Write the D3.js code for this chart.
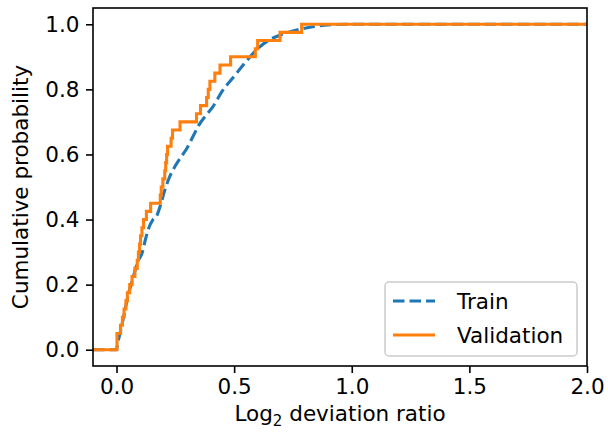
<!DOCTYPE html>
<html>
<head>
<meta charset="utf-8">
<script src="https://cdn.jsdelivr.net/npm/d3@7"></script>
<style>
  body { margin: 0; background: #fff; }
  svg { font-family: "DejaVu Sans", sans-serif; }
</style>
</head>
<body>
<script>
// sorted sample values (log2 deviation ratio), validation set
const validationValues = [0.002, 0.002, 0.017, 0.025, 0.032, 0.040, 0.046, 0.056,
    0.066, 0.078, 0.088, 0.093, 0.098, 0.102, 0.108, 0.115, 0.127, 0.145,
    0.186, 0.190, 0.197, 0.205, 0.209, 0.213, 0.217, 0.232, 0.238, 0.270,
    0.340, 0.357, 0.383, 0.390, 0.397, 0.418, 0.440, 0.485, 0.590, 0.600,
    0.695, 0.787];

// train ECDF (x, cumulative probability)
const trainX = [-0.1, 0.0, 0.005, 0.015, 0.03, 0.05, 0.07, 0.09, 0.11, 0.12, 0.135,
    0.155, 0.17, 0.185, 0.205, 0.225, 0.25, 0.275, 0.3, 0.325, 0.35, 0.38, 0.41,
    0.45, 0.5, 0.55, 0.6, 0.65, 0.7, 0.77, 0.84, 0.9, 1.0, 2.0];
const trainY = [0, 0, 0.02, 0.05, 0.1, 0.17, 0.22, 0.27, 0.3, 0.33, 0.37,
    0.4, 0.41, 0.44, 0.49, 0.53, 0.565, 0.593, 0.62, 0.655, 0.69, 0.72, 0.747,
    0.795, 0.84, 0.885, 0.925, 0.952, 0.968, 0.983, 0.993, 0.998, 1.0, 1.0];

const xTicks = [0, 0.5, 1.0, 1.5, 2.0];
const yTicks = [0, 0.2, 0.4, 0.6, 0.8, 1.0];
const seriesNames = ["Train", "Validation"];
const seriesColors = ["#1f77b4", "#ff7f0e"];

const W = 608, H = 438;
const margin = {left: 93, top: 8, right: 21, bottom: 72};
const width = W - margin.left - margin.right,
    height = H - margin.top - margin.bottom;
const fs = 21.5;
const lw = 3.1;
const dash = `${(3.7 * lw).toFixed(1)},${(1.6 * lw).toFixed(1)}`;

const svg = d3.select("body").append("svg")
    .attr("width", W)
    .attr("height", H);

const g = svg.append("g")
    .attr("transform", `translate(${margin.left},${margin.top})`);

const xScale = d3.scaleLinear().domain([-0.1, 2.0]).range([0, width]);
const yScale = d3.scaleLinear().domain([-0.05, 1.05]).range([height, 0]);

// clip to the axes box
g.append("clipPath").attr("id", "clip")
  .append("rect").attr("width", width).attr("height", height);

// validation ECDF as step points
const n = validationValues.length;
const valPts = [[-0.2, 0]];
validationValues.forEach((v, i) => valPts.push([v, (i + 1) / n]));
valPts.push([2.2, 1]);

const trainPts = trainX.map((x, i) => [x, trainY[i]]);

const plot = g.append("g").attr("clip-path", "url(#clip)");

plot.append("path")
    .datum(trainPts)
    .attr("fill", "none")
    .attr("stroke", seriesColors[0])
    .attr("stroke-width", lw)
    .attr("stroke-dasharray", dash)
    .attr("d", d3.line().x(d => xScale(d[0])).y(d => yScale(d[1])).curve(d3.curveMonotoneX));

plot.append("path")
    .datum(valPts)
    .attr("fill", "none")
    .attr("stroke", seriesColors[1])
    .attr("stroke-width", lw)
    .attr("stroke-linejoin", "miter")
    .attr("d", d3.line().x(d => xScale(d[0])).y(d => yScale(d[1])).curve(d3.curveStepAfter));

// axes
const xAxis = d3.axisBottom(xScale).tickValues(xTicks)
    .tickFormat(d3.format(".1f")).tickSize(7).tickPadding(6).tickSizeOuter(0);
const yAxis = d3.axisLeft(yScale).tickValues(yTicks)
    .tickFormat(d3.format(".1f")).tickSize(7).tickPadding(6.5).tickSizeOuter(0);

const xg = g.append("g").attr("transform", `translate(0,${height})`).call(xAxis);
const yg = g.append("g").call(yAxis);
[xg, yg].forEach(a => {
    a.select(".domain").remove();
    a.selectAll("line").attr("stroke", "#000").attr("stroke-width", 1.6);
    a.selectAll("text").attr("fill", "#000").attr("font-size", fs)
        .attr("font-family", "DejaVu Sans");
});

// spines
g.append("rect")
    .attr("width", width).attr("height", height)
    .attr("fill", "none").attr("stroke", "#000").attr("stroke-width", 1.6);

// axis labels
const xl = svg.append("text")
    .attr("x", margin.left + width / 2)
    .attr("y", 421)
    .attr("text-anchor", "middle")
    .attr("font-size", fs);
xl.append("tspan").text("Log");
xl.append("tspan").attr("font-size", fs * 0.7).attr("dy", 4.5).text("2");
xl.append("tspan").attr("dy", -4.5).text(" deviation ratio");

svg.append("text")
    .attr("transform", `translate(28,${margin.top + height / 2}) rotate(-90)`)
    .attr("text-anchor", "middle")
    .attr("font-size", fs)
    .text("Cumulative probability");

// legend
const lg = svg.append("g").attr("transform", "translate(385,282)");
lg.append("rect")
    .attr("width", 192).attr("height", 74)
    .attr("rx", 4).attr("ry", 4)
    .attr("fill", "#fff").attr("fill-opacity", 0.8)
    .attr("stroke", "#cccccc").attr("stroke-width", 1.5);

seriesNames.forEach((name, i) => {
    const yy = 19 + i * 34;
    lg.append("line")
        .attr("x1", 8).attr("x2", 50)
        .attr("y1", yy).attr("y2", yy)
        .attr("stroke", seriesColors[i])
        .attr("stroke-width", lw)
        .attr("stroke-dasharray", i === 0 ? dash : null);
    lg.append("text")
        .attr("x", 72).attr("y", yy + 8)
        .attr("font-size", fs)
        .text(name);
});
</script>
</body>
</html>
